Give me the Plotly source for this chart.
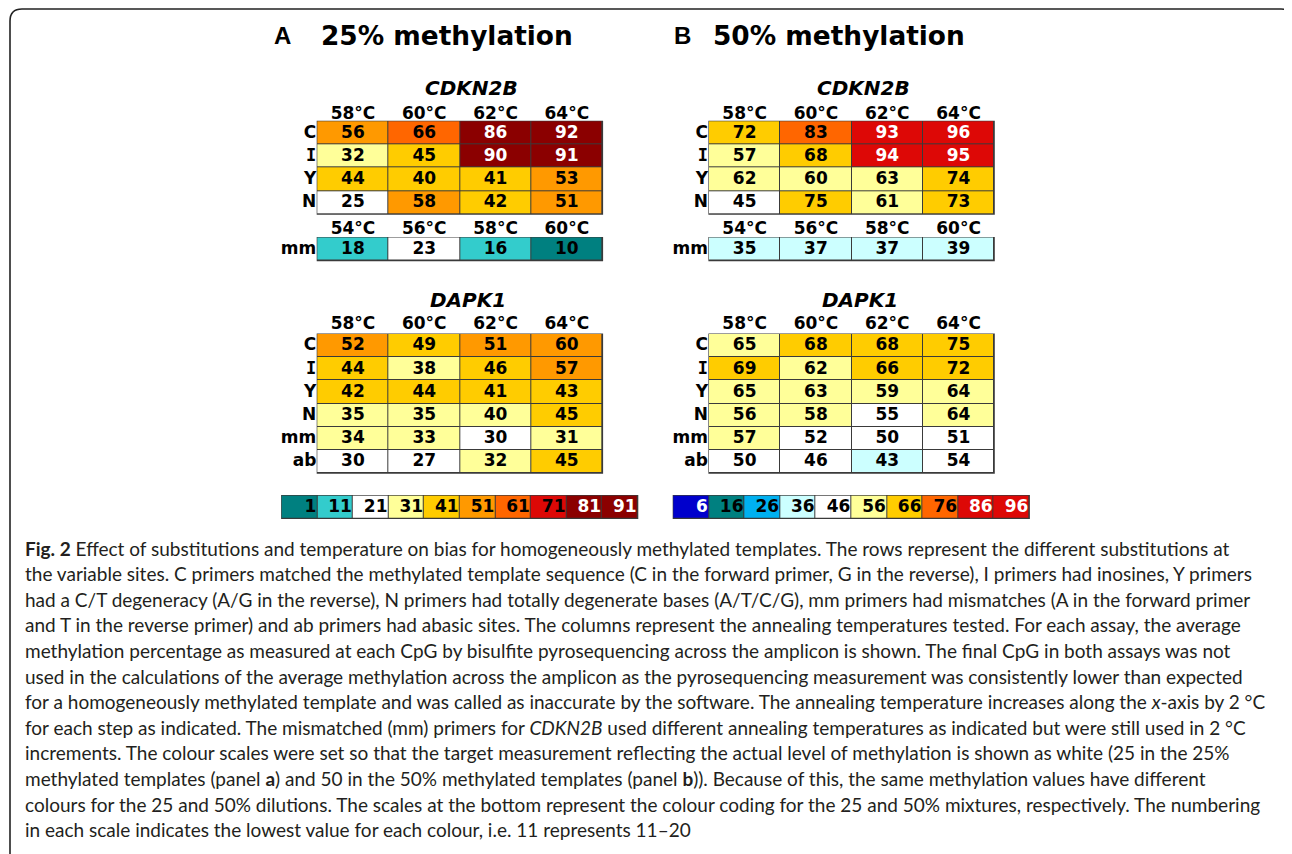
import plotly.graph_objects as go

W, H = 1292, 854
OFF = 8  # browser body margin: data coordinates == window pixels

# ---------------- data ----------------
TEMPS = ["58°C", "60°C", "62°C", "64°C"]
TEMPS_MM = ["54°C", "56°C", "58°C", "60°C"]
ROWS_CDKN2B = ["C", "I", "Y", "N"]
ROWS_MM = ["mm"]
ROWS_DAPK1 = ["C", "I", "Y", "N", "mm", "ab"]

# 25% methylated templates (values estimated; shown rounded)
CDKN2B_25 = [[56, 66, 86, 92],
             [32, 45, 90, 91],
             [44, 40.3, 41, 53],
             [25, 58, 42, 51]]
CDKN2B_25_MM = [[18, 23, 16, 9.7]]
DAPK1_25 = [[52, 49, 51, 59.7],
            [44, 38, 46, 57],
            [42, 44, 41, 43],
            [35, 35, 39.8, 45],
            [34, 33, 29.8, 31],
            [29.8, 27, 32, 45]]

# 50% methylated templates
CDKN2B_50 = [[72, 83, 93, 96],
             [57, 68, 94, 95],
             [62, 60, 63, 74],
             [45.2, 74.8, 61, 73]]
CDKN2B_50_MM = [[35.2, 37, 37, 39]]
DAPK1_50 = [[64.8, 68, 68, 74.8],
            [69, 62, 66, 72],
            [64.8, 63, 59, 64],
            [56, 58, 54.8, 64],
            [57, 52, 50, 51],
            [50, 46, 43, 54]]

SCALE_25 = [1, 11, 21, 31, 41, 51, 61, 71, 81, 91]
SCALE_50 = [6, 16, 26, 36, 46, 56, 66, 76, 86, 96]

COLOURS_25 = ["#008080", "#33CCCC", "#FFFFFF", "#FFFF99", "#FFCC00",
              "#FF9900", "#FF6600", "#DD0806", "#8B0000", "#8B0000"]
COLOURS_50 = ["#0000CC", "#008080", "#00B0F0", "#CCFFFF", "#FFFFFF",
              "#FFFF99", "#FFCC00", "#FF6600", "#DD0806", "#DD0806"]
WHITE_TEXT_25 = {8, 9}
WHITE_TEXT_50 = {0, 8, 9}
ZMIN_25, ZMIN_50 = 0, 5

CAPTION = [
    "<b>Fig. 2</b> Effect of substitutions and temperature on bias for homogeneously methylated templates. The rows represent the different substitutions at",
    "the variable sites. C primers matched the methylated template sequence (C in the forward primer, G in the reverse), I primers had inosines, Y primers",
    "had a C/T degeneracy (A/G in the reverse), N primers had totally degenerate bases (A/T/C/G), mm primers had mismatches (A in the forward primer",
    "and T in the reverse primer) and ab primers had abasic sites. The columns represent the annealing temperatures tested. For each assay, the average",
    "methylation percentage as measured at each CpG by bisulfite pyrosequencing across the amplicon is shown. The final CpG in both assays was not",
    "used in the calculations of the average methylation across the amplicon as the pyrosequencing measurement was consistently lower than expected",
    "for a homogeneously methylated template and was called as inaccurate by the software. The annealing temperature increases along the <i>x</i>-axis by 2 °C",
    "for each step as indicated. The mismatched (mm) primers for <i>CDKN2B</i> used different annealing temperatures as indicated but were still used in 2 °C",
    "increments. The colour scales were set so that the target measurement reflecting the actual level of methylation is shown as white (25 in the 25%",
    "methylated templates (panel <b>a</b>) and 50 in the 50% methylated templates (panel <b>b</b>)). Because of this, the same methylation values have different",
    "colours for the 25 and 50% dilutions. The scales at the bottom represent the colour coding for the 25 and 50% mixtures, respectively. The numbering",
    "in each scale indicates the lowest value for each colour, i.e. 11 represents 11–20",
]

# ---------------- layout constants ----------------
FONT = "DejaVu Sans"
COL_W = 71.3
ROW_H = 23.2
LEFT_A, LEFT_B = 317.3, 709.0
TOP_CDKN2B, TOP_MM, TOP_DAPK1 = 121.3, 237.5, 334.0
TEMP_Y_CDKN2B, TEMP_Y_MM, TEMP_Y_DAPK1 = 115.0, 230.0, 325.0
LEG_TOP, LEG_H, LEG_W = 495.7, 22.6, 35.6
LEG_LEFT_A, LEG_LEFT_B = 281.7, 673.3

fig = go.Figure()
shapes = []


def colourscale(colours):
    n = len(colours)
    cs = []
    for i, c in enumerate(colours):
        cs.append([i / n, c])
        cs.append([(i + 1) / n, c])
    return cs


def add_grid(values, left, top, cw, rh, colours, zmin, white_bins, legend=False):
    nrows, ncols = len(values), len(values[0])
    shapes.append(dict(type="rect", xref="x", yref="y", layer="below",
                       x0=left - 0.6, x1=left + ncols * cw + 0.6,
                       y0=top - 0.6, y1=top + nrows * rh + 0.6,
                       line=dict(width=0), fillcolor="#3a3a3a"))
    fig.add_trace(go.Heatmap(z=values, x0=left + cw / 2, dx=cw,
                             y0=top + rh / 2, dy=rh,
                             colorscale=colourscale(colours),
                             zmin=zmin, zmax=zmin + 10 * len(colours),
                             showscale=False, xgap=1, ygap=1,
                             hoverinfo="skip"))
    xs, ys, txt, cols = [], [], [], []
    for r, row in enumerate(values):
        for c, v in enumerate(row):
            b = int((v - zmin) // 10)
            if legend:
                xs.append(left + (c + 1) * cw - 1)
            else:
                xs.append(left + (c + 0.5) * cw)
            ys.append(top + (r + 0.5) * rh + 0.5)
            txt.append(str(round(v)))
            cols.append("white" if b in white_bins else "black")
    fig.add_trace(go.Scatter(x=xs, y=ys, text=txt, mode="text",
                             textposition="middle left" if legend else "middle center",
                             textfont=dict(family=FONT, size=17, color=cols, weight="bold"),
                             hoverinfo="skip", showlegend=False))


def add_labels(temps, rows, left, top, temp_y):
    fig.add_trace(go.Scatter(
        x=[left + (c + 0.5) * COL_W for c in range(len(temps))],
        y=[temp_y] * len(temps), text=temps, mode="text",
        textposition="middle center",
        textfont=dict(family=FONT, size=17, color="black", weight="bold"),
        hoverinfo="skip", showlegend=False))
    fams = ["DejaVu Sans Mono" if r == "I" else FONT for r in rows]
    fig.add_trace(go.Scatter(
        x=[left - 1] * len(rows),
        y=[top + (r + 0.5) * ROW_H + 0.5 for r in range(len(rows))],
        text=rows, mode="text", textposition="middle left",
        textfont=dict(family=fams, size=17, color="black", weight="bold"),
        hoverinfo="skip", showlegend=False))


panels = [
    (LEFT_A, CDKN2B_25, CDKN2B_25_MM, DAPK1_25, COLOURS_25, ZMIN_25, WHITE_TEXT_25),
    (LEFT_B, CDKN2B_50, CDKN2B_50_MM, DAPK1_50, COLOURS_50, ZMIN_50, WHITE_TEXT_50),
]
for left, cd, cdmm, dap, cols, zmin, wt in panels:
    add_grid(cd, left, TOP_CDKN2B, COL_W, ROW_H, cols, zmin, wt)
    add_labels(TEMPS, ROWS_CDKN2B, left, TOP_CDKN2B, TEMP_Y_CDKN2B)
    add_grid(cdmm, left, TOP_MM, COL_W, ROW_H, cols, zmin, wt)
    add_labels(TEMPS_MM, ROWS_MM, left, TOP_MM, TEMP_Y_MM)
    add_grid(dap, left, TOP_DAPK1, COL_W, ROW_H, cols, zmin, wt)
    add_labels(TEMPS, ROWS_DAPK1, left, TOP_DAPK1, TEMP_Y_DAPK1)

add_grid([SCALE_25], LEG_LEFT_A, LEG_TOP, LEG_W, LEG_H, COLOURS_25, ZMIN_25, WHITE_TEXT_25, legend=True)
add_grid([SCALE_50], LEG_LEFT_B, LEG_TOP, LEG_W, LEG_H, COLOURS_50, ZMIN_50, WHITE_TEXT_50, legend=True)

annotations = []


def ann(text, x, y, size, xanchor="center", family=FONT, color="black"):
    annotations.append(dict(text=text, x=x, y=y, xref="x", yref="y",
                            xanchor=xanchor, yanchor="middle", showarrow=False,
                            font=dict(family=family, size=size, color=color)))


ann("<b>A</b>", 282.5, 35, 24, family="Liberation Sans")
ann("<b>25% methylation</b>", 319, 35, 26.4, xanchor="left")
ann("<b>B</b>", 682.5, 35, 24, family="Liberation Sans")
ann("<b>50% methylation</b>", 711, 35, 26.4, xanchor="left")
for left in (LEFT_A, LEFT_B):
    ann("<b><i>CDKN2B</i></b>", left + 2 * COL_W + 12, 88, 20)
    ann("<b><i>DAPK1</i></b>", left + 2 * COL_W + 8, 300, 20)

for i, line in enumerate(CAPTION):
    ann(line, 23, 548 + i * 25.6, 19.0, xanchor="left", family="Lato", color="#231F20")

# frame with rounded corners
shapes.append(dict(type="path", xref="x", yref="y", layer="above",
                   path="M 10,880 L 10,21 Q 10,9 22,9 L 1281,9 Q 1293,9 1293,21 L 1293,880",
                   line=dict(color="#222222", width=1.6)))

fig.update_layout(
    width=W, height=H, margin=dict(l=0, r=0, t=0, b=0),
    paper_bgcolor="white", plot_bgcolor="white",
    xaxis=dict(range=[OFF, OFF + W], visible=False, fixedrange=True),
    yaxis=dict(range=[OFF + H, OFF], visible=False, fixedrange=True),
    shapes=shapes, annotations=annotations, showlegend=False,
)

fig.write_html("out.html")
